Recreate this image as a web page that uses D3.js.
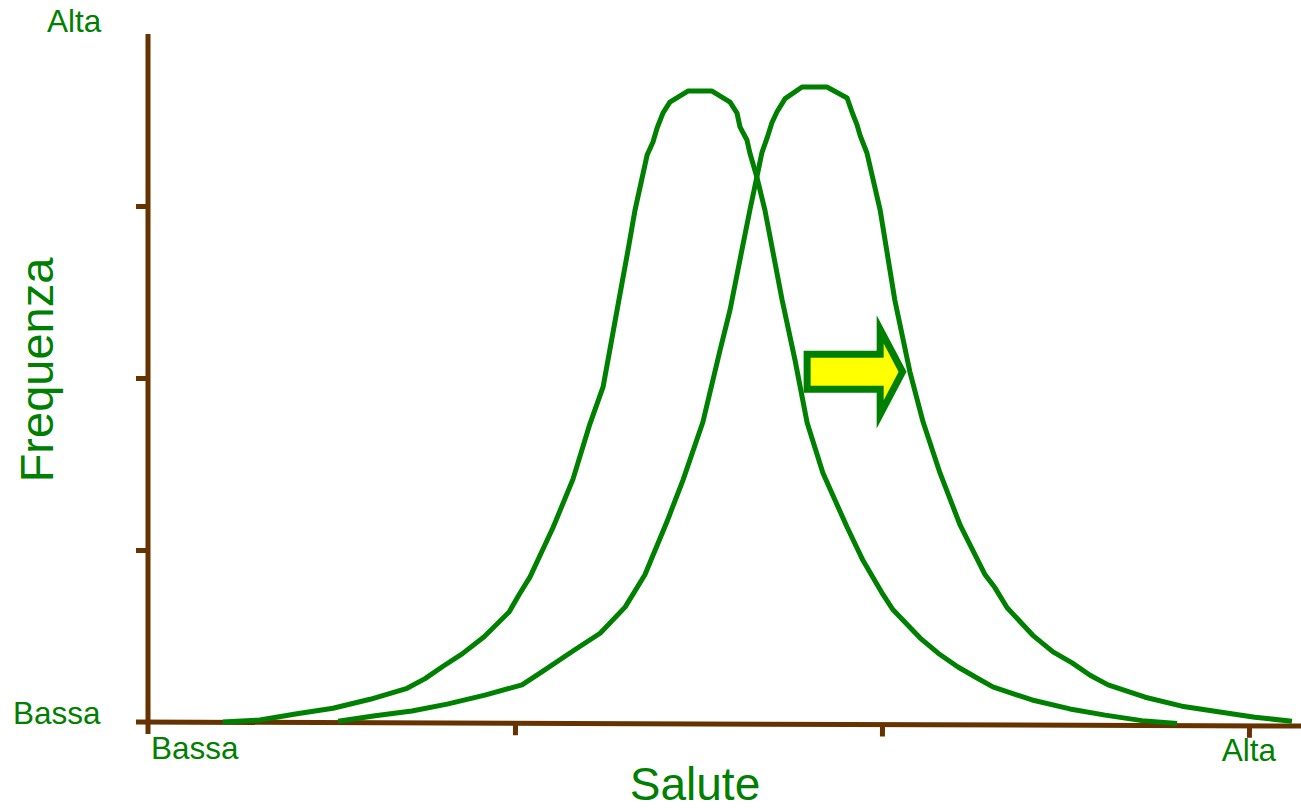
<!DOCTYPE html>
<html>
<head>
<meta charset="utf-8">
<script src="https://cdn.jsdelivr.net/npm/d3@7"></script>
<style>
  html, body { margin: 0; padding: 0; background: #fff; }
  svg { display: block; }
  text { font-family: "Liberation Sans", Arial, sans-serif; fill: #008000; }
</style>
</head>
<body>
<script>
// ---------- data ----------
const xTicks = [0, 100, 200, 300];
const yTicks = [0, 25, 50, 75];
const xTickLabels = ["Bassa", "Alta"];   // low / high health
const yTickLabels = ["Bassa", "Alta"];   // low / high frequency
const xTitle = "Salute";
const yTitle = "Frequenza";

// curve 1 (before the shift)
const curve1X = [20.4, 30.5, 40.6, 50.4, 60.5, 70.6, 75.5, 80.4, 85.6, 91.6, 98.4, 101.1, 104.1, 110.4, 115.8, 120.4, 124.0, 128.3, 130.8, 132.7, 136.0, 137.6, 138.7, 140.3, 142.2, 147.1, 153.7, 158.6, 160.5, 161.3, 163.2, 164.0, 165.9, 168.1, 172.8, 176.3, 179.6, 183.9, 190.5, 194.8, 200.3, 203.0, 210.4, 215.3, 220.7, 225.9, 230.2, 240.9, 251.2, 260.8, 270.8, 280.4];
const curve1Y = [0.0, 0.3, 1.2, 2.0, 3.3, 4.9, 6.3, 8.1, 9.9, 12.4, 16.0, 18.5, 21.1, 28.3, 35.3, 43.3, 48.7, 61.3, 68.6, 74.4, 82.4, 84.3, 86.3, 88.5, 90.1, 91.7, 91.7, 90.1, 88.5, 86.5, 84.6, 82.7, 79.2, 74.4, 61.3, 52.6, 43.5, 36.2, 28.3, 23.5, 18.5, 16.3, 12.2, 10.0, 8.0, 6.4, 5.1, 3.2, 1.9, 1.0, 0.2, -0.2];

// curve 2 (after the shift)
const curve2X = [51.8, 61.9, 71.9, 81.5, 91.8, 101.9, 106.8, 116.3, 123.2, 130.0, 135.4, 141.4, 145.8, 151.2, 155.9, 158.6, 161.3, 164.0, 165.9, 167.3, 168.7, 170.0, 171.4, 173.6, 178.2, 185.0, 190.5, 191.8, 193.2, 194.0, 195.9, 199.5, 203.5, 207.6, 211.2, 215.8, 221.3, 228.1, 230.8, 234.1, 241.1, 246.6, 251.8, 256.7, 261.6, 271.7, 281.7, 291.6, 301.6, 311.7];
const curve2Y = [0.1, 0.9, 1.6, 2.6, 3.9, 5.4, 7.1, 10.5, 12.9, 16.7, 21.4, 29.1, 35.2, 43.6, 54.1, 59.9, 67.2, 74.4, 79.2, 82.8, 84.9, 87.1, 88.7, 90.6, 92.3, 92.3, 90.7, 88.7, 86.8, 85.3, 82.7, 74.4, 61.3, 50.9, 43.6, 36.2, 28.6, 21.4, 19.5, 16.6, 12.6, 10.2, 8.6, 6.8, 5.4, 3.6, 2.3, 1.5, 0.7, 0.1];

// shift arrow (tail start, head base, tip) in data units
const arrowX = [179.6, 199.5, 205.6];
const arrowY = 50.9;

// ---------- layout ----------
const W = 1301, H = 811;
const x = d3.scaleLinear().domain([0, 300]).range([148, 1249]);
const y = d3.scaleLinear().domain([0, 100]).range([722, 34]);

const brown = "#663300", green = "#008000", yellow = "#ffff00";

const svg = d3.select("body").append("svg").attr("width", W).attr("height", H);

// y axis
const yAxis = svg.append("g").attr("transform", `translate(${x(0)},0)`)
  .call(d3.axisLeft(y).tickValues(yTicks.slice(1)).tickSize(12).tickFormat(""));
yAxis.select(".domain").remove();
yAxis.selectAll(".tick line").attr("stroke", brown).attr("stroke-width", 5);
yAxis.append("line").attr("x1", 0).attr("x2", 0)
  .attr("y1", y(0) + 12).attr("y2", y(100))
  .attr("stroke", brown).attr("stroke-width", 5);

// x axis (very slightly tilted as in the original drawing)
const xAxis = svg.append("g")
  .attr("transform", `translate(0,${y(0)}) rotate(0.2 ${x(0)} 0)`)
  .call(d3.axisBottom(x).tickValues(xTicks.slice(1)).tickSize(12).tickFormat(""));
xAxis.select(".domain").remove();
xAxis.selectAll(".tick line").attr("stroke", brown).attr("stroke-width", 5);
xAxis.append("line").attr("x1", x(0) - 12).attr("x2", W)
  .attr("y1", 0).attr("y2", 0)
  .attr("stroke", brown).attr("stroke-width", 5);

// curves
const line = d3.line().x(d => x(d[0])).y(d => y(d[1]));
const c1 = curve1X.map((v, i) => [v, curve1Y[i]]);
const c2 = curve2X.map((v, i) => [v, curve2Y[i]]);
[c1, c2].forEach(c => {
  svg.append("path").datum(c).attr("d", line)
    .attr("fill", "none").attr("stroke", green)
    .attr("stroke-width", 5).attr("stroke-linejoin", "round");
});

// arrow
const ay = y(arrowY);
const tailH = 17.5, headH = 42.5;
const arrowPts = [
  [x(arrowX[0]), ay - tailH], [x(arrowX[1]), ay - tailH], [x(arrowX[1]), ay - headH],
  [x(arrowX[2]), ay], [x(arrowX[1]), ay + headH], [x(arrowX[1]), ay + tailH],
  [x(arrowX[0]), ay + tailH]
];
svg.append("path").attr("d", d3.line()(arrowPts) + "Z")
  .attr("fill", yellow).attr("stroke", green).attr("stroke-width", 7)
  .attr("stroke-linejoin", "miter").attr("stroke-miterlimit", 10);

// tick labels
svg.append("text").attr("x", 47).attr("y", 32).attr("font-size", 31.5).text(yTickLabels[1]);
svg.append("text").attr("x", 13).attr("y", 724).attr("font-size", 31.5).text(yTickLabels[0]);
svg.append("text").attr("x", 151).attr("y", 759).attr("font-size", 31.5).text(xTickLabels[0]);
svg.append("text").attr("x", 1249).attr("y", 761).attr("text-anchor", "middle").attr("font-size", 31.5).text(xTickLabels[1]);

// axis titles
svg.append("text").attr("x", 695).attr("y", 800).attr("text-anchor", "middle").attr("font-size", 46).text(xTitle);
svg.append("text").attr("transform", "translate(53,370) rotate(-90)")
  .attr("text-anchor", "middle").attr("font-size", 47).text(yTitle);
</script>
</body>
</html>
